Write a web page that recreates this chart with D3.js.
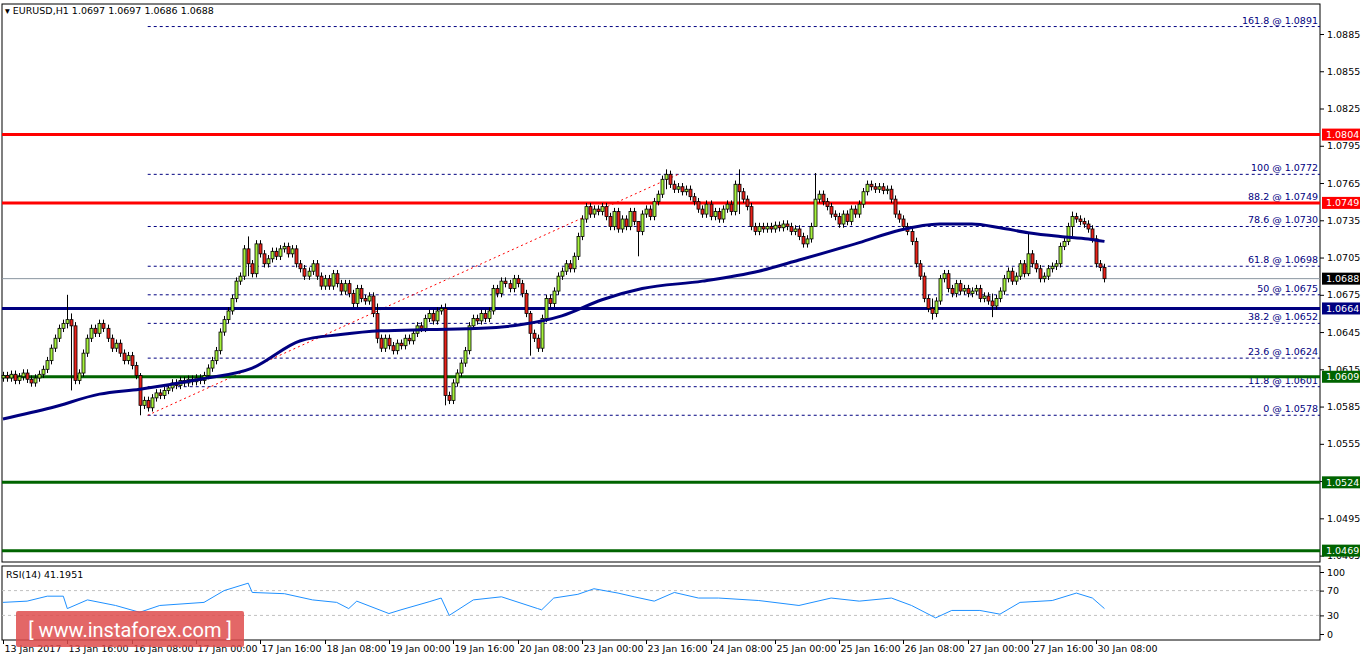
<!DOCTYPE html>
<html>
<head>
<meta charset="utf-8">
<script src="https://cdn.jsdelivr.net/npm/d3@7"></script>
<style>
  body { margin: 0; background: #fff; }
  text { font-family: "DejaVu Sans", sans-serif; font-size: 9.5px; }
</style>
</head>
<body>
<svg id="chart" width="1362" height="661"></svg>
<script>
// hourly closes, 13 Jan 00:00 .. 30 Jan 10:00
const closes = [
  1.0610,1.0608,1.0611,1.0606,1.0609,1.0612,1.0607,1.0604,1.0608,1.0611,
  1.0615,1.0622,1.0632,1.0640,1.0648,1.0652,1.0655,1.0650,1.0606,1.0612,
  1.0628,1.0640,1.0648,1.0644,1.0652,1.0648,1.0640,1.0632,1.0636,1.0628,
  1.0622,1.0626,1.0618,1.0610,1.0586,1.0590,1.0584,1.0592,1.0596,1.0594,
  1.0598,1.0600,1.0604,1.0602,1.0606,1.0604,1.0607,1.0605,1.0608,1.0606,
  1.0610,1.0616,1.0622,1.0630,1.0645,1.0655,1.0662,1.0672,1.0686,1.0690,
  1.0712,1.0700,1.0692,1.0716,1.0708,1.0700,1.0704,1.0710,1.0706,1.0712,
  1.0714,1.0708,1.0712,1.0700,1.0696,1.0690,1.0694,1.0700,1.0690,1.0682,
  1.0688,1.0682,1.0692,1.0684,1.0678,1.0684,1.0676,1.0668,1.0680,1.0672,
  1.0670,1.0674,1.0660,1.0640,1.0632,1.0640,1.0634,1.0630,1.0636,1.0634,
  1.0640,1.0638,1.0644,1.0650,1.0648,1.0656,1.0660,1.0654,1.0662,1.0664,
  1.0594,1.0590,1.0604,1.0612,1.0620,1.0630,1.0650,1.0656,1.0654,1.0660,
  1.0656,1.0662,1.0680,1.0676,1.0686,1.0684,1.0680,1.0688,1.0684,1.0676,
  1.0660,1.0644,1.0640,1.0632,1.0656,1.0672,1.0668,1.0678,1.0690,1.0694,
  1.0700,1.0696,1.0706,1.0722,1.0736,1.0746,1.0740,1.0744,1.0742,1.0746,
  1.0738,1.0730,1.0742,1.0728,1.0736,1.0730,1.0742,1.0734,1.0726,1.0740,
  1.0744,1.0738,1.0750,1.0756,1.0768,1.0772,1.0764,1.0760,1.0762,1.0758,
  1.0760,1.0754,1.0750,1.0744,1.0740,1.0748,1.0738,1.0742,1.0736,1.0744,
  1.0748,1.0742,1.0764,1.0758,1.0752,1.0746,1.0730,1.0726,1.0730,1.0728,
  1.0730,1.0728,1.0731,1.0729,1.0732,1.0730,1.0726,1.0728,1.0722,1.0716,
  1.0720,1.0730,1.0752,1.0756,1.0750,1.0746,1.0740,1.0738,1.0732,1.0740,
  1.0734,1.0744,1.0740,1.0748,1.0758,1.0764,1.0762,1.0760,1.0762,1.0759,
  1.0760,1.0752,1.0740,1.0736,1.0730,1.0726,1.0718,1.0700,1.0690,1.0672,
  1.0664,1.0660,1.0670,1.0688,1.0692,1.0680,1.0676,1.0684,1.0678,1.0680,
  1.0676,1.0678,1.0680,1.0672,1.0674,1.0670,1.0666,1.0672,1.0678,1.0688,
  1.0694,1.0686,1.0690,1.0700,1.0692,1.0708,1.0700,1.0696,1.0688,1.0690,
  1.0696,1.0698,1.0700,1.0714,1.0718,1.0730,1.0738,1.0736,1.0734,1.0732,
  1.0728,1.0720,1.0700,1.0697,1.0688
]
const firstOpen = 1.0608
// notable wick extremes [bar, high, low]
const spikes = [
  [16, 1.0675, 1.0648], [17, 1.0660, 1.0598], [34, 1.0612, 1.0578], [61, 1.0722, 1.0690],
  [93, 1.0668, 1.0636], [110, 1.0668, 1.0586], [131, 1.0662, 1.0626], [165, 1.0776, 1.0760],
  [183, 1.0776, 1.0740], [202, 1.0773, 1.0740], [231, 1.0672, 1.0655], [246, 1.0676, 1.0657],
  [255, 1.0725, 1.0690], [266, 1.0742, 1.0722], [158, 1.0734, 1.0706]
]
// moving average [bar, value]
const maPoints = [
  [0,1.0575],[12,1.0584],[24,1.0595],[34,1.0599],[49,1.0607],[62,1.0616],[74,1.0638],
  [84,1.0643],[94,1.0646],[106,1.0647],[119,1.0648],[129,1.0651],[139,1.0658],[149,1.0671],
  [159,1.0680],[174,1.0686],[188,1.0694],[198,1.0703],[213,1.0717],[223,1.0727],[233,1.0732],
  [241,1.0732],[248,1.0729],[255,1.0725],[263,1.0722],[270,1.0720],[274,1.0718]
]
const rsiPoints = [
  [0,51],[6,53],[11,61],[15,61],[16,41],[21,55],[28,46],[34,35],[39,46],[50,51],[55,70],
  [61,82],[62,67],[70,65],[77,55],[83,51],[86,41],[88,53],[96,33],[99,39],[106,52],[109,58],
  [111,30],[117,55],[124,60],[133,41],[134,39],[137,58],[143,64],[147,73],[153,66],[157,60],
  [162,53],[167,67],[173,58],[178,58],[188,54],[198,46],[206,58],[213,53],[221,58],[226,46],
  [232,26],[236,38],[243,38],[248,32],[253,51],[261,54],[267,66],[271,58],[274,41]
]
const priceTicks = [1.0885,1.0855,1.0825,1.0795,1.0765,1.0735,1.0705,1.0675,1.0645,1.0615,1.0585,1.0555,1.0525,1.0495,1.0465]
const timeLabels = ['13 Jan 2017','13 Jan 16:00','16 Jan 08:00','17 Jan 00:00','17 Jan 16:00','18 Jan 08:00',
  '19 Jan 00:00','19 Jan 16:00','20 Jan 08:00','23 Jan 00:00','23 Jan 16:00','24 Jan 08:00','25 Jan 00:00',
  '25 Jan 16:00','26 Jan 08:00','27 Jan 00:00','27 Jan 16:00','30 Jan 08:00']
const fibLevels = [['161.8',1.0891],['100',1.0772],['88.2',1.0749],['78.6',1.0730],['61.8',1.0698],
  ['50',1.0675],['38.2',1.0652],['23.6',1.0624],['11.8',1.0601],['0',1.0578]]
const levels = [[1.0804,'#ff0000'],[1.0749,'#ff0000'],[1.0664,'#000080'],[1.0609,'#006400'],[1.0524,'#006400'],[1.0469,'#006400']]
const lastPrice = 1.0688
const fibStart = [36, 1.0578], fibEnd = [168, 1.0772]

const svg = d3.select('#chart')
const pLeft = 2, pRight = 1320, pTop = 4, pBottom = 562, rTop = 566, rBottom = 640

const x = d3.scaleLinear().domain([0, 274]).range([3, 3 + 274 * 4.02])
const y = d3.scaleLinear().domain([1.0885, 1.0465]).range([34, 555.6])
const yr = d3.scaleLinear().domain([100, 0]).range([572, 634])

const candles = closes.map((c, i) => {
  const o = i === 0 ? firstOpen : closes[i - 1]
  let h = Math.max(o, c) + 0.0003, l = Math.min(o, c) - 0.0003
  const s = spikes.find(d => d[0] === i)
  if (s) { h = s[1]; l = s[2] }
  return { i, o, c, h, l }
})

// frames
svg.append('rect').attr('x', pLeft).attr('y', pTop).attr('width', pRight - pLeft).attr('height', pBottom - pTop)
  .attr('fill', 'none').attr('stroke', '#000')
svg.append('rect').attr('x', pLeft).attr('y', rTop).attr('width', pRight - pLeft).attr('height', rBottom - rTop)
  .attr('fill', 'none').attr('stroke', '#000')

// fib lines
fibLevels.forEach(([name, v]) => {
  svg.append('line').attr('x1', x(fibStart[0])).attr('x2', pRight).attr('y1', y(v)).attr('y2', y(v))
    .attr('stroke', '#000080').attr('stroke-dasharray', '3,3')
  svg.append('text').attr('x', pRight - 2).attr('y', y(v) - 3).attr('text-anchor', 'end')
    .attr('fill', '#000080').text(`${name} @ ${v.toFixed(4)}`)
})
svg.append('line').attr('x1', x(fibStart[0])).attr('y1', y(fibStart[1])).attr('x2', x(fibEnd[0])).attr('y2', y(fibEnd[1]))
  .attr('stroke', '#ff0000').attr('stroke-dasharray', '2,3')

// last price line
svg.append('line').attr('x1', pLeft).attr('x2', pRight).attr('y1', y(lastPrice)).attr('y2', y(lastPrice))
  .attr('stroke', '#8a96a0')

// levels
levels.forEach(([v, col]) => {
  svg.append('line').attr('x1', pLeft).attr('x2', pRight).attr('y1', y(v)).attr('y2', y(v))
    .attr('stroke', col).attr('stroke-width', 3)
})

// candles
const g = svg.append('g')
candles.forEach(d => {
  const cx = Math.round(x(d.i)) + 0.5
  g.append('line').attr('x1', cx).attr('x2', cx).attr('y1', y(d.h)).attr('y2', y(d.l)).attr('stroke', '#000')
  const bodyTop = y(Math.max(d.o, d.c)), h = Math.max(1, y(Math.min(d.o, d.c)) - bodyTop)
  g.append('rect').attr('x', cx - 1.5).attr('y', bodyTop).attr('width', 3).attr('height', h)
    .attr('fill', d.c >= d.o ? '#a6f23c' : '#e8221a').attr('stroke', '#000').attr('stroke-width', 0.8)
})

// moving average
svg.append('path').datum(maPoints)
  .attr('d', d3.line().curve(d3.curveMonotoneX).x(d => x(d[0])).y(d => y(d[1])))
  .attr('fill', 'none').attr('stroke', '#000080').attr('stroke-width', 3)

// right axis
const axisG = svg.append('g').attr('transform', `translate(${pRight},0)`)
  .call(d3.axisRight(y).tickValues(priceTicks).tickSize(4).tickFormat(d3.format('.4f')))
axisG.select('.domain').remove()
axisG.selectAll('text').attr('fill', '#000')

// level boxes
levels.concat([[lastPrice, '#000']]).forEach(([v, col]) => {
  svg.append('rect').attr('x', pRight + 2).attr('y', y(v) - 6).attr('width', 38).attr('height', 12).attr('fill', col)
  svg.append('text').attr('x', pRight + 6).attr('y', y(v) + 3.5).attr('fill', '#fff').text(v.toFixed(4))
})

// RSI
;[70, 30].forEach(v => {
  svg.append('line').attr('x1', pLeft).attr('x2', pRight).attr('y1', yr(v)).attr('y2', yr(v))
    .attr('stroke', '#c0c0c0').attr('stroke-dasharray', '3,3')
})
svg.append('path').datum(rsiPoints)
  .attr('d', d3.line().x(d => x(d[0])).y(d => yr(d[1])))
  .attr('fill', 'none').attr('stroke', '#1e90ff').attr('stroke-width', 1)
const rAxis = svg.append('g').attr('transform', `translate(${pRight},0)`)
  .call(d3.axisRight(yr).tickValues([100, 70, 30, 0]).tickSize(4))
rAxis.select('.domain').remove()
svg.append('text').attr('x', 6).attr('y', 578).text('RSI(14) 41.1951')

// time axis
timeLabels.forEach((t, k) => {
  const tx = Math.round(x(k * 16)) + 0.5
  svg.append('line').attr('x1', tx).attr('x2', tx).attr('y1', rBottom).attr('y2', rBottom + 4).attr('stroke', '#000')
  svg.append('text').attr('x', tx + 1).attr('y', 652).text(t)
})

// header
svg.append('text').attr('x', 5).attr('y', 14).text('▾ EURUSD,H1  1.0697 1.0697 1.0686 1.0688')

// watermark
svg.append('rect').attr('x', 16).attr('y', 611).attr('width', 228).attr('height', 36).attr('rx', 2)
  .attr('fill', '#de4c4c').attr('opacity', 0.85)
svg.append('text').attr('x', 130).attr('y', 637).attr('text-anchor', 'middle').attr('fill', '#fff')
  .style('font-size', '20px').style('font-family', 'Roboto, sans-serif').text('[  www.instaforex.com ]')
</script>
</body>
</html>
